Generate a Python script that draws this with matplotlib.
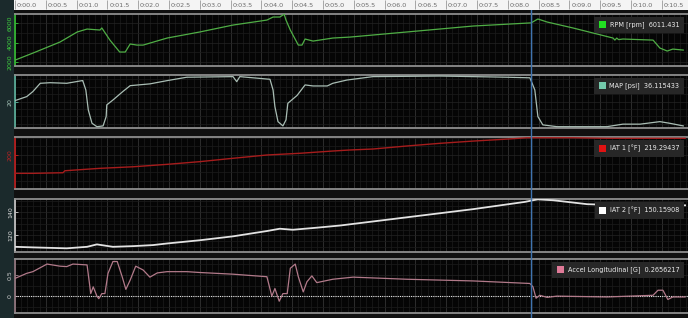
import matplotlib
matplotlib.use('Agg')
import matplotlib.pyplot as plt
from matplotlib.ticker import MultipleLocator, FixedLocator
from matplotlib.patches import Rectangle
from matplotlib.offsetbox import AnchoredOffsetbox, HPacker, DrawingArea, TextArea

# ---------------- data (time in seconds) ----------------
rpm_t = [0.00,0.29,0.73,1.01,1.17,1.38,1.41,1.54,1.70,1.79,1.87,1.98,2.08,2.47,3.00,3.54,4.09,4.19,4.30,4.37,4.40,4.47,4.60,4.66,4.71,4.84,5.16,5.44,6.36,7.44,8.38,8.49,8.64,9.06,9.71,9.74,9.77,9.80,9.87,10.36,10.47,10.59,10.68,10.85]
rpm_v = [2200,2920,4050,5080,5380,5280,5490,4260,3030,3030,3850,3740,3740,4460,5080,5790,6300,6610,6610,6900,6300,5280,3740,3740,4360,4150,4460,4560,5080,5690,6011,6410,6100,5490,4460,4250,4460,4300,4360,4250,3440,3130,3330,3230]

map_t = [0.00,0.19,0.29,0.41,0.57,0.84,1.09,1.10,1.15,1.19,1.25,1.33,1.43,1.48,1.49,1.59,1.75,1.87,2.19,2.47,2.79,3.54,3.60,3.65,4.14,4.19,4.22,4.27,4.35,4.40,4.43,4.58,4.71,4.84,5.07,5.16,5.39,5.81,6.90,7.99,8.36,8.44,8.49,8.57,8.80,9.61,9.87,10.15,10.47,10.63,10.85]
map_v = [20.7,23.4,26.8,32.4,32.8,32.4,34.2,34.2,27.9,14.4,5.4,3.1,3.6,9.9,17.8,21.1,26.8,30.8,32.0,34.2,36.5,36.9,33.5,36.9,35.1,27.9,16.6,6.5,3.6,7.7,18.9,24.2,31.3,30.6,30.6,32.4,34.6,36.9,37.3,36.5,36.1,27.9,9.9,4.3,3.1,3.1,4.8,4.8,6.5,5.4,3.6]

iat1_t = [0.00,0.29,0.78,0.81,1.38,1.92,2.47,3.00,3.54,4.09,4.63,5.16,5.44,5.81,6.36,6.90,7.44,7.99,8.31,9.06,9.61,10.88]
iat1_v = [178.8,178.8,179.5,181.8,184.6,186.4,189.2,192.3,196.2,200.0,202.0,204.6,205.8,206.9,210.4,213.5,216.1,218.4,219.9,219.9,219.3,219.3]

iat2_t = [0.00,0.29,0.84,1.17,1.33,1.59,1.92,2.24,2.47,3.00,3.54,4.09,4.30,4.51,4.90,5.28,6.36,7.44,8.28,8.39,8.49,8.74,9.29,9.66,10.88]
iat2_v = [110.0,109.5,108.7,110.0,112.1,110.0,110.6,111.5,112.9,115.7,119.1,123.7,125.7,124.8,126.6,128.5,135.6,142.7,149.0,150.2,151.2,150.4,147.0,146.4,146.0]

acc_t = [0.00,0.19,0.29,0.52,0.73,0.84,0.94,1.17,1.23,1.27,1.33,1.36,1.41,1.46,1.51,1.59,1.66,1.74,1.80,1.87,1.96,2.08,2.19,2.31,2.47,2.79,3.00,3.54,4.09,4.17,4.22,4.29,4.35,4.42,4.47,4.55,4.60,4.68,4.74,4.82,4.90,5.16,5.49,6.36,7.44,8.36,8.41,8.46,8.52,8.64,8.80,9.61,10.36,10.44,10.52,10.60,10.68,10.88]
acc_v = [0.42,0.54,0.58,0.76,0.71,0.70,0.76,0.74,0.06,0.22,0.00,-0.06,0.06,0.06,0.54,0.82,0.82,0.46,0.16,0.38,0.71,0.62,0.45,0.55,0.58,0.58,0.56,0.52,0.46,0.00,0.18,-0.12,0.06,0.06,0.66,0.76,0.46,0.10,0.34,0.48,0.32,0.40,0.45,0.40,0.36,0.30,0.22,-0.05,0.02,-0.03,0.00,-0.02,0.02,0.14,0.14,-0.08,-0.02,-0.02]

time_ticks = [0.0,0.5,1.0,1.5,2.0,2.5,3.0,3.5,4.0,4.5,5.0,5.5,6.0,6.5,7.0,7.5,8.0,8.5,9.0,9.5,10.0,10.5]
cursor_t = 8.38

legend_labels = ["RPM [rpm]  6011.431", "MAP [psi]  36.115433", "IAT 1 [\u00b0F]  219.29437",
                 "IAT 2 [\u00b0F]  150.15908", "Accel Longitudinal [G]  0.2656217"]

# ---------------- layout ----------------
W, H = 688, 318
fig = plt.figure(figsize=(W / 100, H / 100), dpi=100)
fig.patch.set_facecolor('#101010')
T_MAX = 673 / 61.59

def px_axes(x0, y0, x1, y1, **kw):
    return fig.add_axes([x0 / W, 1 - y1 / H, (x1 - x0) / W, (y1 - y0) / H], **kw)

# left gutter
fig.patches.append(Rectangle((0, 0), 14 / W, 1, transform=fig.transFigure,
                             facecolor='#1b2a2c', edgecolor='none', zorder=-2))
# time bar
fig.patches.append(Rectangle((14 / W, 1 - 9.5 / H), 1, 9.5 / H, transform=fig.transFigure,
                             facecolor='#f4f4f4', edgecolor='none', zorder=-2))
tax = px_axes(15, 0, 688, 9.5)
tax.set_xlim(0, T_MAX)
tax.set_ylim(0, 1)
tax.axis('off')
tax.vlines(time_ticks, 0.1, 0.95, color='#9a9a9a', lw=0.6)
for tt in time_ticks:
    tax.text(tt + 0.03, 0.45, "0:%04.1f" % tt, fontsize=4.6, color='#6a6a6a',
             va='center', ha='left')

panels = [
    dict(y=(14, 66), t=rpm_t, v=rpm_v, ylim=(1600, 6920), ticks=[2000, 4000, 6000],
         minor=1000, lc='#4fae45', tc='#3fcf3f', sc='#35c235', sq='#22e022', lw=0.9,
         fmt=lambda v: "%d" % v),
    dict(y=(75, 128), t=map_t, v=map_v, ylim=(2.2, 38.0), ticks=[20],
         minor=5, lc='#a9bdb4', tc='#a8c8bc', sc='#5fb8a2', sq='#74c9ab', lw=0.9,
         fmt=lambda v: "%d" % v),
    dict(y=(137, 189), t=iat1_t, v=iat1_v, ylim=(160.7, 220.8), ticks=[200],
         minor=10, lc='#a61c1c', tc='#c42222', sc='#c21f1f', sq='#e01212', lw=1.0,
         fmt=lambda v: "%d" % v),
    dict(y=(199, 252), t=iat2_t, v=iat2_v, ylim=(105.5, 151.5), ticks=[120, 140],
         minor=5, lc='#e2e2e2', tc='#e0e0e0', sc='#cfcfcf', sq='#ffffff', lw=1.3,
         fmt=lambda v: "%d" % v),
    dict(y=(259, 313), t=acc_t, v=acc_v, ylim=(-0.40, 0.88), ticks=[0, 0.5],
         minor=0.25, lc='#b27a8a', tc='#d0d0d0', sc='#9b7f88', sq='#e07a98', lw=0.9,
         fmt=lambda v: ("%g" % v)),
]

for i, p in enumerate(panels):
    ax = px_axes(15, p['y'][0], 688, p['y'][1])
    ax.set_facecolor('#050505')
    ax.set_xlim(0, T_MAX)
    ax.set_ylim(*p['ylim'])
    ax.xaxis.set_major_locator(MultipleLocator(0.5))
    ax.xaxis.set_minor_locator(MultipleLocator(0.1))
    ax.yaxis.set_major_locator(FixedLocator(p['ticks']))
    ax.yaxis.set_minor_locator(MultipleLocator(p['minor']))
    ax.grid(which='major', axis='x', color='#333333', lw=0.6)
    ax.grid(which='minor', axis='x', color='#1c1c1c', lw=0.5)
    ax.grid(which='minor', axis='y', color='#1c1c1c', lw=0.5)
    ax.grid(which='major', axis='y', color='#242424', lw=0.5)
    ax.set_axisbelow(True)
    ax.tick_params(axis='x', which='both', bottom=False, labelbottom=False)
    ax.tick_params(axis='y', which='major', direction='in', length=2, width=0.6,
                   color=p['sc'], labelsize=4.5, labelcolor=p['tc'], pad=1.5)
    ax.tick_params(axis='y', which='minor', left=False)
    ax.set_yticklabels([p['fmt'](v) for v in p['ticks']], rotation=90, va='center')
    for s in ('top', 'bottom'):
        ax.spines[s].set_color('#8e8e8e')
        ax.spines[s].set_linewidth(1.3)
    ax.spines['right'].set_visible(False)
    ax.spines['left'].set_color(p['sc'])
    ax.spines['left'].set_linewidth(1.2)
    if i == 4:
        ax.axhline(0, color='#e6e6e6', lw=0.8, ls=(0, (1, 1)), zorder=2)
    ax.plot(p['t'], p['v'], color=p['lc'], lw=p['lw'], zorder=3, clip_on=True)

    # legend box
    da = DrawingArea(5, 5, 0, 0)
    da.add_artist(Rectangle((0, 0), 5, 5, facecolor=p['sq'], edgecolor='none'))
    ta = TextArea(legend_labels[i], textprops=dict(fontsize=4.7, color='#ececec'))
    box = HPacker(children=[da, ta], align='center', pad=0, sep=2.5)
    ab = AnchoredOffsetbox(loc='upper right', child=box, pad=0.35, borderpad=0,
                           frameon=True, bbox_to_anchor=(1 - 4 / 673, 1 - 2.5 / 52),
                           bbox_transform=ax.transAxes)
    ab.patch.set_facecolor('#272727')
    ab.patch.set_edgecolor('none')
    ab.patch.set_boxstyle('square', pad=0)
    ab.set_zorder(5)
    ax.add_artist(ab)

# cursor line spanning all panels
cax = px_axes(15, 9.5, 688, 318)
cax.set_xlim(0, T_MAX)
cax.patch.set_alpha(0)
cax.axis('off')
cax.axvline(cursor_t, color='#3f74b0', lw=1.0, zorder=10)

fig.savefig('out.png', dpi=100, facecolor=fig.get_facecolor())
